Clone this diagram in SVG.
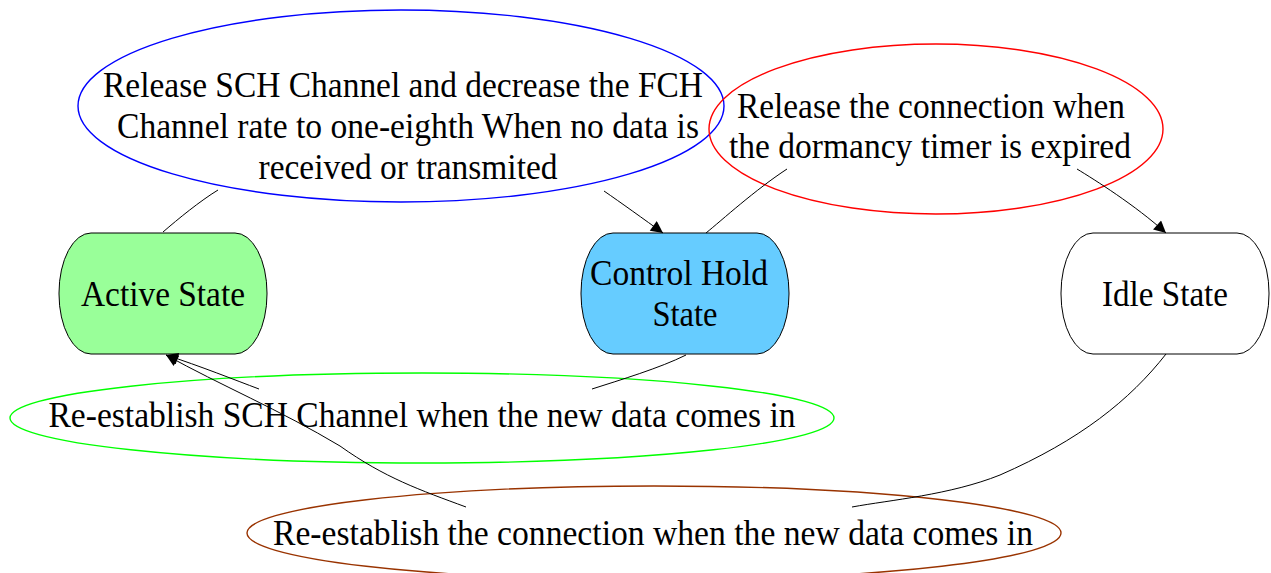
<svg xmlns="http://www.w3.org/2000/svg" width="1271" height="573" viewBox="0 0 1271 573">
  <style>
    text { font-family: "Liberation Serif", "Times New Roman", serif; font-size: 36px; fill: #000; text-anchor: middle; }
    .state { stroke: #000; stroke-width: 1; }
    .label { fill: none; stroke-width: 1.4; }
    .edge { fill: none; stroke: #000; stroke-width: 1; }
  </style>
  <defs>
    <marker id="arrow" viewBox="0 0 10 10" refX="10" refY="5" markerWidth="17" markerHeight="12" markerUnits="userSpaceOnUse" orient="auto">
      <path d="M0,0 L10,5 L0,10 Z" fill="#000"/>
    </marker>
  </defs>
  <rect width="1271" height="573" fill="#fff"/>

  <!-- transition labels -->
  <g id="label-release-sch">
    <ellipse class="label" cx="401" cy="106" rx="323" ry="96" stroke="#0000ff"/>
    <text x="403" y="97" textLength="600" lengthAdjust="spacingAndGlyphs">Release SCH Channel and decrease the FCH</text>
    <text x="408" y="138" textLength="582" lengthAdjust="spacingAndGlyphs">Channel rate to one-eighth When no data is</text>
    <text x="408" y="179" textLength="299" lengthAdjust="spacingAndGlyphs">received or transmited</text>
  </g>
  <g id="label-release-connection">
    <ellipse class="label" cx="936" cy="129" rx="227" ry="85" stroke="#ff0000"/>
    <text x="931" y="118" textLength="388" lengthAdjust="spacingAndGlyphs">Release the connection when</text>
    <text x="930" y="158" textLength="402" lengthAdjust="spacingAndGlyphs">the dormancy timer is expired</text>
  </g>
  <g id="label-reestablish-sch">
    <ellipse class="label" cx="422" cy="418" rx="412" ry="45" stroke="#00ff00"/>
    <text x="422" y="427" textLength="747" lengthAdjust="spacingAndGlyphs">Re-establish SCH Channel when the new data comes in</text>
  </g>
  <g id="label-reestablish-connection">
    <ellipse class="label" cx="654" cy="533" rx="407" ry="47" stroke="#993300"/>
    <text x="653" y="545" textLength="760" lengthAdjust="spacingAndGlyphs">Re-establish the connection when the new data comes in</text>
  </g>

  <!-- states -->
  <g id="active-state">
    <rect class="state" x="59" y="233" width="208" height="121" rx="32" ry="60" fill="#99ff99"/>
    <text x="163" y="306" textLength="164" lengthAdjust="spacingAndGlyphs">Active State</text>
  </g>
  <g id="control-hold-state">
    <rect class="state" x="581" y="233" width="208" height="121" rx="32" ry="60" fill="#66ccff"/>
    <text x="679" y="285" textLength="178" lengthAdjust="spacingAndGlyphs">Control Hold</text>
    <text x="685" y="326" textLength="65" lengthAdjust="spacingAndGlyphs">State</text>
  </g>
  <g id="idle-state">
    <rect class="state" x="1061" y="233" width="208" height="121" rx="32" ry="60" fill="#ffffff"/>
    <text x="1165" y="306" textLength="126" lengthAdjust="spacingAndGlyphs">Idle State</text>
  </g>

  <!-- transitions -->
  <g id="connectors">
    <path class="edge" d="M163,232 C178,219 200,201 218,190"/>
    <path class="edge" d="M604,191 C620,202 645,220 663,233" marker-end="url(#arrow)"/>
    <path class="edge" d="M706,233 C722,220 755,190 787,169"/>
    <path class="edge" d="M1077,169 C1095,180 1135,205 1166,233" marker-end="url(#arrow)"/>
    <path class="edge" d="M686,355 C660,368 620,380 592,389"/>
    <path class="edge" d="M259,389 C235,380 200,366 166,355" marker-end="url(#arrow)"/>
    <path class="edge" d="M1166,354 C1130,400 1080,440 1000,475 C950,495 890,500 852,507"/>
    <path class="edge" d="M466,507 C420,490 385,478 340,446 C280,410 220,385 166,355" marker-end="url(#arrow)"/>
  </g>
</svg>
